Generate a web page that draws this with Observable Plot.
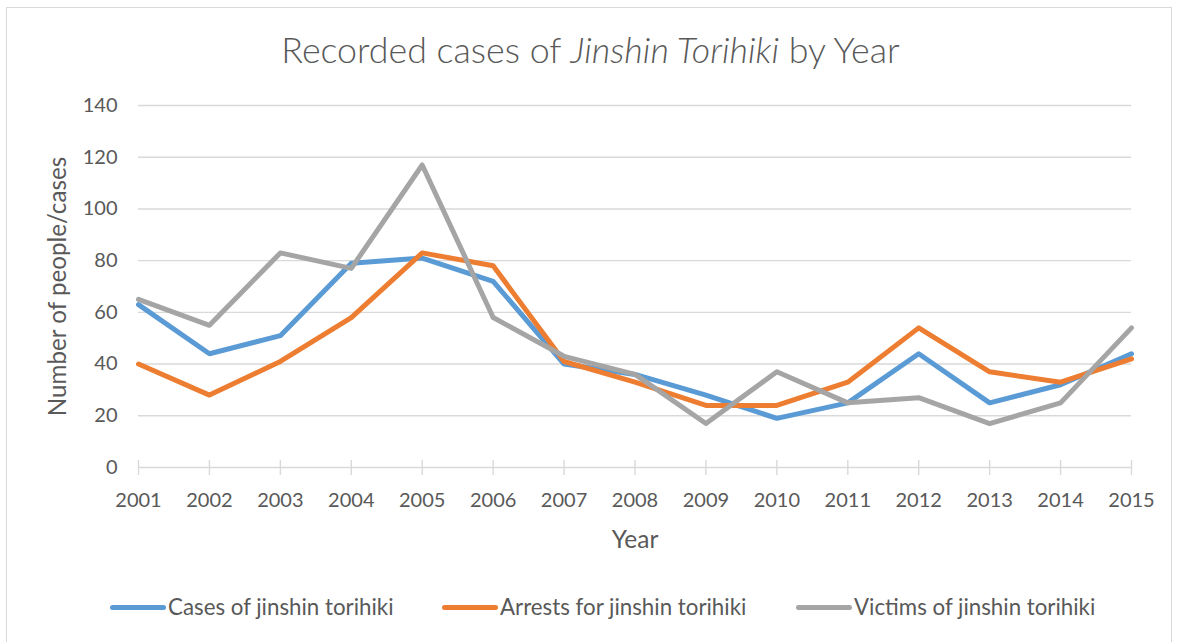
<!DOCTYPE html>
<html>
<head>
<meta charset="utf-8">
<script src="https://cdn.jsdelivr.net/npm/d3@7"></script>
<script src="https://cdn.jsdelivr.net/npm/@observablehq/plot@0.6"></script>
<style>
  html, body { margin: 0; padding: 0; background: #fff; }
  body { width: 1181px; height: 642px; position: relative; overflow: hidden; font-family: Lato, "Open Sans", sans-serif; color: #595959; }
  #frame { position: absolute; left: 6px; top: 7px; width: 1166px; height: 650px; border: 1px solid #d9d9d9; box-sizing: border-box; }
  #title { position: absolute; left: 0; top: 0; width: 1181px; height: 80px; text-align: center; font-size: 35.8px; font-weight: 300; line-height: 100px; color: #595959; }
  #chart { position: absolute; left: 0; top: 80px; }
  #legend { position: absolute; left: 0; top: 560px; width: 1181px; height: 82px; }
  .item { position: absolute; top: 35px; font-size: 22.3px; line-height: 24px; color: #595959; white-space: nowrap; }
  .sw { display: inline-block; width: 56px; height: 5px; border-radius: 3px; vertical-align: middle; margin-right: 2px; position: relative; top: -2px; }
</style>
</head>
<body>
<div id="frame"></div>
<div id="title">Recorded cases of <i>Jinshin Torihiki</i> by Year</div>
<div id="chart"></div>
<div id="legend"></div>
<script>
const years = [2001, 2002, 2003, 2004, 2005, 2006, 2007, 2008, 2009, 2010, 2011, 2012, 2013, 2014, 2015];
const seriesNames = ["Cases of jinshin torihiki", "Arrests for jinshin torihiki", "Victims of jinshin torihiki"];
const cases   = [63, 44, 51, 79, 81, 72, 40, 36, 28, 19, 25, 44, 25, 32, 44];
const arrests = [40, 28, 41, 58, 83, 78, 41, 33, 24, 24, 33, 54, 37, 33, 42];
const victims = [65, 55, 83, 77, 117, 58, 43, 36, 17, 37, 25, 27, 17, 25, 54];
const colors = ["#5B9BD5", "#ED7D31", "#A5A5A5"];
const yTicks = [0, 20, 40, 60, 80, 100, 120, 140];

const seriesValues = [cases, arrests, victims];
const data = [];
seriesNames.forEach((name, s) => {
  years.forEach((yr, i) => data.push({series: name, year: yr, value: seriesValues[s][i]}));
});

const chart = Plot.plot({
  width: 1181,
  height: 480,
  marginLeft: 138,
  marginRight: 50,
  marginTop: 25,
  marginBottom: 93,
  style: {fontFamily: "Lato, 'Open Sans', sans-serif", fontSize: "20px", color: "#595959", background: "transparent"},
  x: {domain: [2001, 2015]},
  y: {domain: [0, 140]},
  color: {domain: seriesNames, range: colors},
  marks: [
    Plot.gridY(yTicks.filter(v => v > 0), {stroke: "#d9d9d9", strokeOpacity: 1, strokeWidth: 1.4}),
    Plot.ruleY([0], {stroke: "#d9d9d9", strokeWidth: 1.4}),
    Plot.ruleX(years, {x: d => d, y1: 0, y2: 0, insetTop: -7, insetBottom: -8, stroke: "#d9d9d9", strokeWidth: 1.4}),
    Plot.axisX({ticks: years, tickFormat: d => String(d), tickSize: 0, tickPadding: 25, fontSize: 20, fill: "#595959", label: "Year", labelAnchor: "center", labelArrow: "none", labelOffset: 80}),
    Plot.axisY({ticks: yTicks, tickSize: 0, tickPadding: 21, fontSize: 20, fill: "#595959", label: "Number of people/cases", labelAnchor: "center", labelArrow: "none", labelOffset: 90}),
    Plot.line(data, {x: "year", y: "value", z: "series", stroke: "series", strokeWidth: 5, strokeLinejoin: "round", strokeLinecap: "round"})
  ]
});
chart.querySelectorAll("[aria-label='x-axis label'] text").forEach(t => t.setAttribute("font-size", "24.5"));
chart.querySelectorAll("[aria-label='y-axis label'] text").forEach(t => t.setAttribute("font-size", "24.2"));
document.getElementById("chart").appendChild(chart);

const legend = document.getElementById("legend");
const lefts = [110, 442, 796];
seriesNames.forEach((name, i) => {
  const d = document.createElement("div");
  d.className = "item";
  d.style.left = lefts[i] + "px";
  d.innerHTML = `<span class="sw" style="background:${colors[i]}"></span>${name}`;
  legend.appendChild(d);
});
</script>
</body>
</html>
